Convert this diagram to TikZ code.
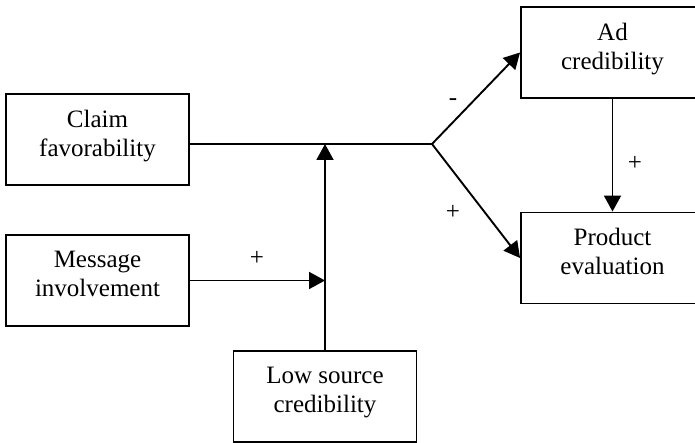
\documentclass[tikz,border=0pt]{standalone}
\usepackage{fontspec}
\setmainfont{Liberation Serif}
\usetikzlibrary{arrows.meta}
\tikzset{
  box/.style={draw, line width=1.9pt, minimum width=183pt, minimum height=91pt, align=center, inner sep=0pt,
    text depth=13pt, font=\fontsize{25}{29}\selectfont},
  arr/.style={line width=1.9pt, -{Triangle[length=16pt,width=17pt]}},
  ln/.style={line width=1.9pt},
  lbl/.style={font=\fontsize{25}{29}\selectfont, inner sep=0pt}
}
\begin{document}
\begin{tikzpicture}[x=1pt,y=-1pt]
\useasboundingbox (0,0) rectangle (695,443);
\clip (0,0) rectangle (695,443);
\node[box] (claim) at (97.5,139.5) {Claim\\favorability};
\node[box] (msg) at (97.5,280.5) {Message\\involvement};
\node[box] (low) at (325,396.5) {Low source\\credibility};
\node[box] (ad) at (612.5,52.5) {Ad\\credibility};
\node[box] (prod) at (612.5,258) {Product\\evaluation};
\coordinate (branch) at (432,144);
\draw[ln] (claim.east |- branch) -- (branch);
\draw[arr] (low.north) -- (low.north |- branch);
\draw[arr] (msg.east) -- (msg.east -| low.north);
\draw[arr] (branch) -- (ad.west);
\draw[arr] (branch) -- (prod.west);
\draw[arr] (ad.south) -- (prod.north);
\node[lbl] (l1) at (453,102) {-};
\node[lbl] (l2) at (453,212) {+};
\node[lbl] (l3) at (257,258) {+};
\node[lbl] (l4) at (635,163) {+};
\end{tikzpicture}
\end{document}
